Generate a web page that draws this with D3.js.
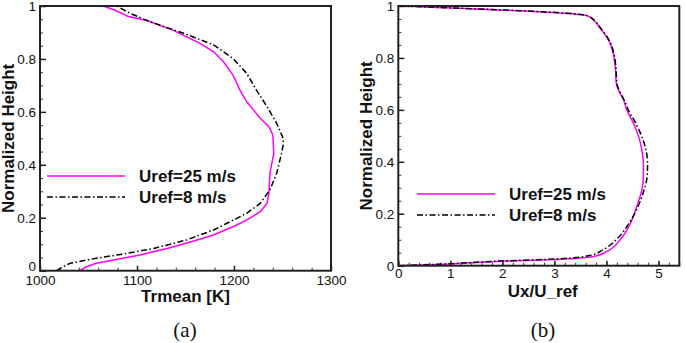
<!DOCTYPE html>
<html><head><meta charset="utf-8">
<script src="https://cdn.jsdelivr.net/npm/d3@7"></script>
<style>body{margin:0;background:#fff}svg{display:block}</style>
</head><body>
<svg id="c" width="685" height="343"></svg>
<script>
// ---------- data ----------
const seriesNames = ["Uref=25 m/s", "Uref=8 m/s"];
// Panel (a): Trmean [K] vs normalized height
const aT25 = [1041,1048,1058,1076,1103,1131,1162,1179,1199,1213,1227,1234,1236,1237,1241,1240,1236,1227,1213,1206,1199,1189,1179,1165,1137,1110,1091,1077,1065];
const aH25 = [0,0.015,0.028,0.04,0.059,0.084,0.116,0.135,0.166,0.191,0.223,0.254,0.292,0.368,0.443,0.513,0.544,0.576,0.639,0.683,0.739,0.79,0.827,0.859,0.909,0.945,0.96,0.985,1];
const aT8 = [1017,1027,1031,1058,1089,1117,1151,1179,1196,1213,1227,1237,1244,1249,1251,1250,1244,1234,1223,1213,1199,1179,1148,1113,1093,1079];
const aH8 = [0,0.021,0.028,0.047,0.065,0.084,0.116,0.154,0.185,0.217,0.254,0.305,0.368,0.443,0.481,0.506,0.557,0.62,0.683,0.746,0.802,0.853,0.897,0.941,0.972,1];
// Panel (b): Ux/U_ref vs normalized height
const bU25 = [0,0.8,1.96,3.04,3.75,4.0,4.26,4.46,4.58,4.68,4.71,4.71,4.68,4.62,4.52,4.39,4.33,4.23,4.19,4.17,4.13,4.07,4.0,3.88,3.75,3.62,0];
const bH25 = [0,0.005,0.017,0.024,0.035,0.054,0.099,0.163,0.227,0.291,0.343,0.394,0.445,0.497,0.548,0.6,0.638,0.677,0.702,0.767,0.818,0.856,0.882,0.914,0.946,0.963,1];
const bU8 = [0,0.8,1.96,3.04,3.7,3.92,4.21,4.44,4.6,4.72,4.78,4.79,4.76,4.68,4.56,4.42,4.34,4.24,4.2,4.18,4.14,4.08,4.01,3.89,3.76,3.63,0];
const bH8 = [0,0.006,0.018,0.026,0.04,0.06,0.105,0.165,0.225,0.29,0.34,0.39,0.445,0.497,0.55,0.6,0.638,0.677,0.702,0.767,0.818,0.856,0.882,0.914,0.946,0.963,1];
const aXTicks = [1000,1100,1200,1300];
const bXTicks = [0,1,2,3,4,5];
const yTicks = [0,0.2,0.4,0.6,0.8,1];

const svg = d3.select("#c");
const FONT = "'Liberation Sans', Arial, sans-serif";
const colors = ["#ff00ff", "#000000"];
const dashes = [null, "6,2.5,1.5,2.5"];

function panel(o) {
  const x = d3.scaleLinear().domain(o.xDomain).range([o.x0, o.x1]);
  const y = d3.scaleLinear().domain([0, 1]).range([o.y0, o.y1]);
  const g = svg.append("g");
  // minor ticks
  g.append("g").attr("transform", `translate(0,${o.y0})`)
    .call(d3.axisBottom(x).tickValues(d3.range(o.xDomain[0], o.xDomain[1] + 1e-9, o.xMinor)).tickSize(-3).tickSizeOuter(0).tickFormat(""))
    .call(s => s.select(".domain").remove())
    .call(s => s.selectAll("line").attr("stroke", "#333").attr("stroke-width", 1));
  g.append("g").attr("transform", `translate(${o.x0},0)`)
    .call(d3.axisLeft(y).tickValues(d3.range(0, 1.0001, 0.05)).tickSize(-3).tickSizeOuter(0).tickFormat(""))
    .call(s => s.select(".domain").remove())
    .call(s => s.selectAll("line").attr("stroke", "#333").attr("stroke-width", 1));
  // major ticks
  const xa = g.append("g").attr("transform", `translate(0,${o.y0})`)
    .call(d3.axisBottom(x).tickValues(o.xTicks).tickSize(-5).tickSizeOuter(0).tickPadding(o.xPad).tickFormat(d3.format("d")));
  xa.select(".domain").remove();
  xa.selectAll("line").attr("stroke", "#222").attr("stroke-width", 1.5);
  xa.selectAll("text").attr("font-family", FONT).attr("font-size", 13.5).attr("fill", "#111");
  const ya = g.append("g").attr("transform", `translate(${o.x0},0)`)
    .call(d3.axisLeft(y).tickValues(yTicks).tickSize(-6).tickSizeOuter(0).tickPadding(4).tickFormat(d => d === 0 ? "0" : d === 1 ? "1" : d3.format(".1f")(d)));
  ya.select(".domain").remove();
  ya.selectAll("line").attr("stroke", "#222").attr("stroke-width", 1.5);
  ya.selectAll("text").attr("font-family", FONT).attr("font-size", 13.5).attr("fill", "#111");
  ya.selectAll("text").filter(d => d === 0).attr("dy", o.zeroDy);
  // curves
  const clip = "clip" + o.id;
  svg.append("clipPath").attr("id", clip).append("rect")
    .attr("x", o.x0).attr("y", o.y1).attr("width", o.x1 - o.x0).attr("height", o.y0 - o.y1);
  const line = d3.line().x(d => x(d[0])).y(d => y(d[1])).curve(o.curve);
  o.series.forEach((s, i) => {
    g.append("path").datum(d3.zip(s[0], s[1]))
      .attr("clip-path", `url(#${clip})`)
      .attr("d", line).attr("fill", "none").attr("stroke", colors[i])
      .attr("stroke-width", 1.5).attr("stroke-dasharray", dashes[i]);
  });
  // frame
  g.append("rect").attr("x", o.x0).attr("y", o.y1).attr("width", o.x1 - o.x0).attr("height", o.y0 - o.y1)
    .attr("fill", "none").attr("stroke", "#222").attr("stroke-width", 2);
  // legend
  seriesNames.forEach((n, i) => {
    const ly = o.legY + i * 21;
    g.append("line").attr("x1", o.legX).attr("x2", o.legX + 78).attr("y1", ly).attr("y2", ly)
      .attr("stroke", colors[i]).attr("stroke-width", 1.5).attr("stroke-dasharray", dashes[i]);
    g.append("text").attr("x", o.legX + 92).attr("y", ly).attr("dy", "0.36em")
      .attr("font-family", FONT).attr("font-weight", "bold").attr("font-size", 17).attr("fill", "#111").text(n);
  });
  // axis titles
  g.append("text").attr("x", (o.x0 + o.x1) / 2 + o.xtOff).attr("y", o.y0 + 31)
    .attr("text-anchor", "middle").attr("font-family", FONT).attr("font-weight", "bold").attr("font-size", 17).attr("fill", "#111").text(o.xTitle);
  g.append("text").attr("transform", `translate(${o.x0 - 26},${(o.y0 + o.y1) / 2})rotate(-90)`)
    .attr("text-anchor", "middle").attr("font-family", FONT).attr("font-weight", "bold").attr("font-size", 17).attr("fill", "#111").text("Normalized Height");
  g.append("text").attr("x", o.labX).attr("y", 337)
    .attr("text-anchor", "middle").attr("font-family", "'Liberation Serif', 'Times New Roman', serif").attr("font-size", 21).attr("fill", "#111").text(o.label);
}

panel({id: "a", xDomain: [1000, 1300], x0: 40, x1: 331, y0: 270.7, y1: 6, xTicks: aXTicks, xMinor: 20, xPad: 5, zeroDy: "-0.05em",
  series: [[aT25, aH25], [aT8, aH8]], curve: d3.curveLinear, legX: 47, legY: 176,
  xTitle: "Trmean [K]", xtOff: 0, label: "(a)", labX: 185});
panel({id: "b", xDomain: [0, 5.4], x0: 398.3, x1: 679.3, y0: 265.7, y1: 6, xTicks: bXTicks, xMinor: 0.2, xPad: 3, zeroDy: "0.32em",
  series: [[bU25, bH25], [bU8, bH8]], curve: d3.curveMonotoneY, legX: 417, legY: 194,
  xTitle: "Ux/U_ref", xtOff: 4, label: "(b)", labX: 543});
</script>
</body></html>
